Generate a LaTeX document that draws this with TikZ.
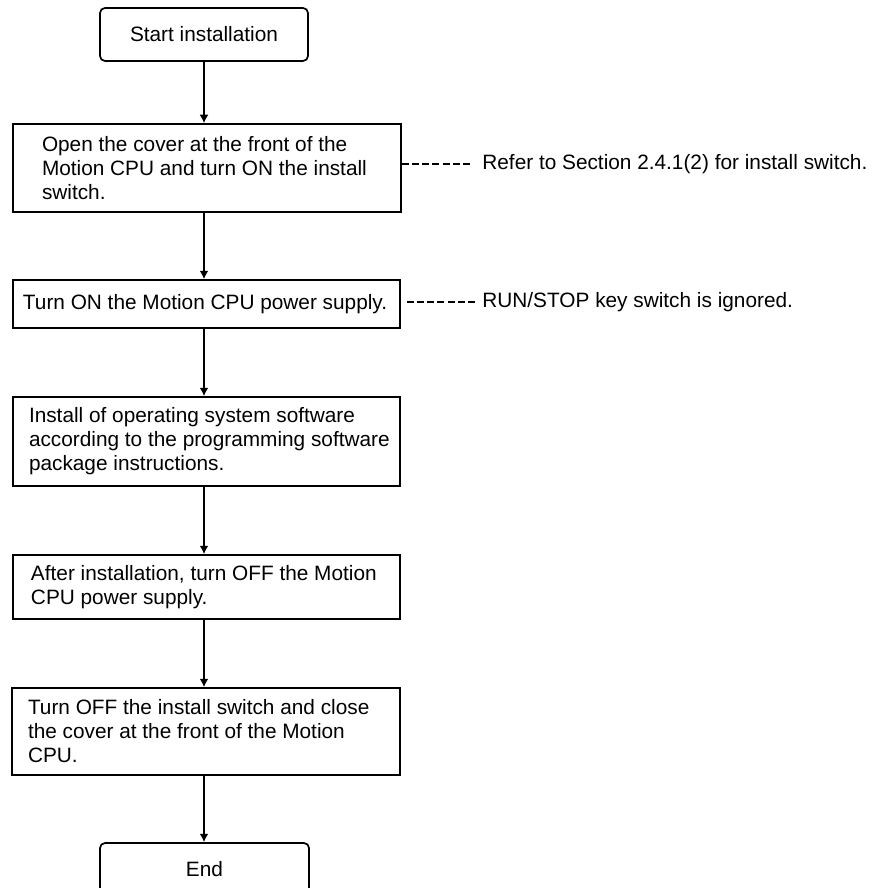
\documentclass[tikz,border=0pt]{standalone}
\usepackage{fontspec}
\setmainfont{Liberation Sans}
\usetikzlibrary{arrows.meta}
\begin{document}
\begin{tikzpicture}[x=0.5pt,y=-0.5pt,
  every node/.style={font=\fontsize{10.4pt}{12pt}\selectfont},
  termbox/.style={draw, line width=0.85pt, rounded corners=2.5pt, minimum width=104pt, minimum height=26.5pt, inner sep=0pt},
  stepbox/.style={draw, line width=0.85pt, inner xsep=0pt, inner ysep=0pt, align=flush left},
  notetext/.style={anchor=west, inner sep=0pt},
  arr/.style={line width=0.85pt, -{Latex[length=4.2pt,width=4.5pt]}},
  dashline/.style={line width=0.6pt, dash pattern=on 3.5pt off 1.6pt}]
\useasboundingbox (0,0) rectangle (879,888);
\fill[white] (0,0) rectangle (879,888);

\node[termbox] (start) at (204,34.5) {Start installation};

\node[stepbox, text width=194pt, minimum height=44pt] (b1) at (207,168)
 {\hspace*{14.5pt}Open the cover at the front of the\\
  \hspace*{14.5pt}Motion CPU and turn ON the install\\
  \hspace*{14.5pt}switch.};

\node[stepbox, text width=193.5pt, minimum height=24pt] (b2) at (206.5,304)
 {\hspace*{5pt}Turn ON the Motion CPU power supply.};

\node[stepbox, text width=193.5pt, minimum height=44.5pt] (b3) at (206.5,441.5)
 {\hspace*{8pt}Install of operating system software\\
  \hspace*{8pt}according to the programming software\\
  \hspace*{8pt}package instructions.};

\node[stepbox, text width=193.5pt, minimum height=32pt] (b4) at (206.5,587)
 {\hspace*{9pt}After installation, turn OFF the Motion\\
  \hspace*{9pt}CPU power supply.};

\node[stepbox, text width=194pt, minimum height=43.5pt] (b5) at (206,731.5)
 {\hspace*{8pt}Turn OFF the install switch and close\\
  \hspace*{8pt}the cover at the front of the Motion\\
  \hspace*{8pt}CPU.};

\node[termbox, minimum width=104.5pt] (end) at (204.5,869.5) {End};

\node[notetext] (n1) at (482,164) {Refer to Section 2.4.1(2) for install switch.};
\node[notetext] (n2) at (482,302) {RUN/STOP key switch is ignored.};

\draw[arr] (start.south) -- (start.south |- b1.north);
\draw[arr] (b1.south -| start.south) -- (b2.north -| start.south);
\draw[arr] (b2.south -| start.south) -- (b3.north -| start.south);
\draw[arr] (b3.south -| start.south) -- (b4.north -| start.south);
\draw[arr] (b4.south -| start.south) -- (b5.north -| start.south);
\draw[arr] (b5.south -| start.south) -- (end.north -| start.south);

\draw[dashline, shorten >=4.5pt] (b1.east |- n1.west) -- (n1.west);
\draw[dashline, shorten <=3pt, shorten >=3.5pt] (b2.east |- n2.west) -- (n2.west);
\end{tikzpicture}
\end{document}
